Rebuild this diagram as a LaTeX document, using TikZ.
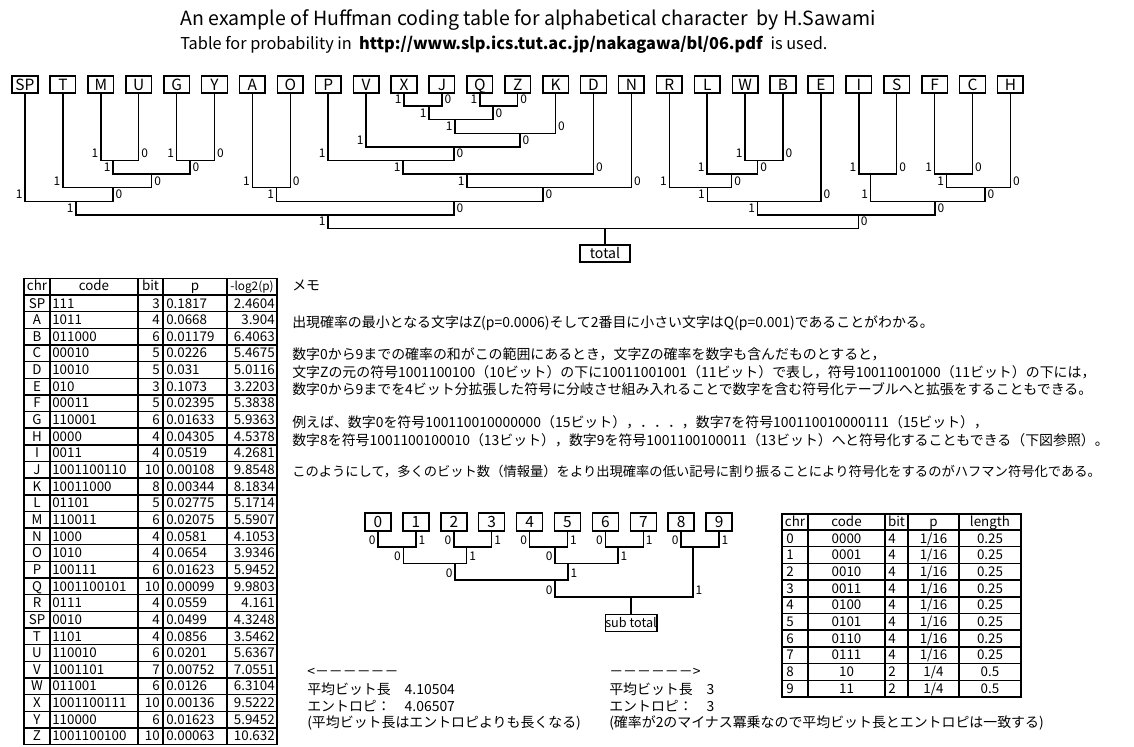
\documentclass[tikz,border=0pt]{standalone}
\usepackage{fontspec}
\setmainfont{Noto Sans CJK JP}

% one branching: left child, joint, right child, left bit, right bit
\newcommand{\hjoin}[5]{\draw[branch] (#1) |- node[bitl]{#4} (#2) -| node[bitr]{#5} (#3);}

\begin{document}
\begin{tikzpicture}[x=0.025cm, y=-0.025cm,
  branch/.style={draw=black, line width=1.1pt},
  lbox/.style={draw=black, line width=1.1pt, minimum width=0.64cm, minimum height=0.43cm, inner sep=0pt, text height=8pt, text depth=0pt, font=\fontsize{11}{12}\selectfont},
  dbox/.style={lbox, minimum width=0.65cm, minimum height=0.45cm},
  sumbox/.style={lbox, text height=6.8pt, font=\fontsize{9}{10}\selectfont},
  bitl/.style={anchor=south east, inner sep=1.3pt, text depth=0pt, font=\fontsize{8.5}{9}\selectfont},
  bitr/.style={bitl, anchor=south west},
  tline/.style={draw=black, line width=1pt},
  cell/.style={inner sep=0pt, font=\fontsize{9.5}{10}\selectfont},
  memo/.style={anchor=base west, inner sep=0pt, font=\fontsize{9.9}{11}\selectfont},
]
\path[fill=white] (0,0) rectangle (1134,747);
\useasboundingbox (0,0) rectangle (1134,747);

% title
\node[anchor=base west, inner sep=0pt, font=\fontsize{13.9}{15}\selectfont] (title) at (180,26) {An example of Huffman coding table for alphabetical character\ \ by H.Sawami};
\node[anchor=base west, inner sep=0pt, font=\fontsize{11.6}{13}\selectfont] (source) at (180,50) {Table for probability in\ \ \textbf{http://www.slp.ics.tut.ac.jp/nakagawa/bl/06.pdf}\ \ is used.};

% letters of the big tree
\foreach \c [count=\i from 0] in {SP,T,M,U,G,Y,A,O,P,V,X,J,Q,Z,K,D,N,R,L,W,B,E,I,S,F,C,H}
  \node[lbox] (l\c) at ({25+37.9*\i},84.5) {\c};

% joints
\coordinate (nMU) at (113,160.5);
\coordinate (nGY) at (190,160.5);
\coordinate (nMUGY) at (151.7,174.1);
\coordinate (nT) at (113,187.7);
\coordinate (nSP) at (76,201.3);
\coordinate (nAO) at (276.7,187.7);
\coordinate (nXJ) at (429,106.1);
\coordinate (nQZ) at (493,106.1);
\coordinate (nXQ) at (455,119.7);
\coordinate (nK) at (520,133.3);
\coordinate (nV) at (454,146.9);
\coordinate (nP) at (403,160.5);
\coordinate (nD) at (467,174.1);
\coordinate (nN) at (543,187.7);
\coordinate (nA) at (454,201.3);
\coordinate (nRootL) at (328,214.9);
\coordinate (nWB) at (757.7,160.5);
\coordinate (nL) at (731.7,174.1);
\coordinate (nR) at (707.3,187.7);
\coordinate (nE) at (757.7,201.3);
\coordinate (nIS) at (870.7,174.1);
\coordinate (nFC) at (946.7,174.1);
\coordinate (nH) at (985,187.7);
\coordinate (nI) at (935,201.3);
\coordinate (nR0) at (858.3,214.9);
\coordinate (root) at (605,228.5);
\node[sumbox, minimum width=1.25cm, text height=7.2pt, font=\fontsize{10}{11}\selectfont] (total) at (605,253.5) {total};

\hjoin{lM}{nMU}{lU}{1}{0}
\hjoin{lG}{nGY}{lY}{1}{0}
\hjoin{nMU}{nMUGY}{nGY}{1}{0}
\hjoin{lT}{nT}{nMUGY}{1}{0}
\hjoin{lSP}{nSP}{nT}{1}{0}
\hjoin{lA}{nAO}{lO}{1}{0}
\hjoin{lX}{nXJ}{lJ}{1}{0}
\hjoin{lQ}{nQZ}{lZ}{1}{0}
\hjoin{nXJ}{nXQ}{nQZ}{1}{0}
\hjoin{nXQ}{nK}{lK}{1}{0}
\hjoin{lV}{nV}{nK}{1}{0}
\hjoin{lP}{nP}{nV}{1}{0}
\hjoin{nP}{nD}{lD}{1}{0}
\hjoin{nD}{nN}{lN}{1}{0}
\hjoin{nAO}{nA}{nN}{1}{0}
\hjoin{nSP}{nRootL}{nA}{1}{0}
\hjoin{lW}{nWB}{lB}{1}{0}
\hjoin{lL}{nL}{nWB}{1}{0}
\hjoin{lR}{nR}{nL}{1}{0}
\hjoin{nR}{nE}{lE}{1}{0}
\hjoin{lI}{nIS}{lS}{1}{0}
\hjoin{lF}{nFC}{lC}{1}{0}
\hjoin{nFC}{nH}{lH}{1}{0}
\hjoin{nIS}{nI}{nH}{1}{0}
\hjoin{nE}{nR0}{nI}{1}{0}
\hjoin{nRootL}{root}{nR0}{1}{0}
\draw[branch] (root) -- (total);

% table of letters
\draw[tline, line width=1.3pt] (24,278.5) rectangle (277,744.5);
\foreach \x in {50,138,163,227} \draw[tline] (\x,278.5) -- (\x,744.5);
\foreach \k in {0,...,26} \draw[tline] (24,{295+16.65*\k}) -- (277,{295+16.65*\k});
\node[cell, anchor=base] (hchr) at (37,291) {chr};
\node[cell, anchor=base] (hcode) at (94,291) {code};
\node[cell, anchor=base] (hbit) at (150.5,291) {bit};
\node[cell, anchor=base] (hp) at (195,291) {p};
\node[cell, anchor=base, font=\fontsize{8.4}{9}\selectfont] (hlog) at (252,291) {-log2(p)};
\foreach \c/\code/\b/\p/\lg [count=\r] in {SP/111/3/0.1817/2.4604, A/1011/4/0.0668/3.904, B/011000/6/0.01179/6.4063,
  C/00010/5/0.0226/5.4675, D/10010/5/0.031/5.0116, E/010/3/0.1073/3.2203, F/00011/5/0.02395/5.3838,
  G/110001/6/0.01633/5.9363, H/0000/4/0.04305/4.5378, I/0011/4/0.0519/4.2681, J/1001100110/10/0.00108/9.8548,
  K/10011000/8/0.00344/8.1834, L/01101/5/0.02775/5.1714, M/110011/6/0.02075/5.5907, N/1000/4/0.0581/4.1053,
  O/1010/4/0.0654/3.9346, P/100111/6/0.01623/5.9452, Q/1001100101/10/0.00099/9.9803, R/0111/4/0.0559/4.161,
  SP/0010/4/0.0499/4.3248, T/1101/4/0.0856/3.5462, U/110010/6/0.0201/5.6367, V/1001101/7/0.00752/7.0551,
  W/011001/6/0.0126/6.3104, X/1001100111/10/0.00136/9.5222, Y/110000/6/0.01623/5.9452, Z/1001100100/10/0.00063/10.632}
{
  \node[cell, anchor=base] (chr\r) at (37,{295+16.65*(\r-0.5)+4.7}) {\c};
  \node[cell, anchor=base west] (code\r) at (52,{295+16.65*(\r-0.5)+4.7}) {\code};
  \node[cell, anchor=base east] (bit\r) at (160,{295+16.65*(\r-0.5)+4.7}) {\b};
  \node[cell, anchor=base west] (p\r) at (166,{295+16.65*(\r-0.5)+4.7}) {\p};
  \node[cell, anchor=base east] (lg\r) at (275,{295+16.65*(\r-0.5)+4.7}) {\lg};
}

% memo
\node[memo] (memo) at (292,291) {メモ};
\node[memo] (m1) at (292,328) {出現確率の最小となる文字はZ(p=0.0006)そして2番目に小さい文字はQ(p=0.001)であることがわかる。};
\node[memo] (m2a) at (292,360) {数字0から9までの確率の和がこの範囲にあるとき，文字Zの確率を数字も含んだものとすると，};
\node[memo] (m2b) at (292,377.5) {文字Zの元の符号1001100100（10ビット）の下に10011001001（11ビット）で表し，符号10011001000（11ビット）の下には，};
\node[memo] (m2c) at (292,395) {数字0から9までを4ビット分拡張した符号に分岐させ組み入れることで数字を含む符号化テーブルへと拡張をすることもできる。};
\node[memo] (m3a) at (292,428) {例えば、数字0を符号100110010000000（15ビット），．．．，数字7を符号100110010000111（15ビット），};
\node[memo] (m3b) at (292,445.5) {数字8を符号1001100100010（13ビット），数字9を符号1001100100011（13ビット）へと符号化することもできる（下図参照）。};
\node[memo, font=\fontsize{9.45}{11}\selectfont] (m4) at (292,477) {このようにして，多くのビット数（情報量）をより出現確率の低い記号に割り振ることにより符号化をするのがハフマン符号化である。};

% digits tree
\foreach \d [count=\i from 0] in {0,...,9}
  \node[dbox] (d\d) at ({378+37.9*\i},522) {\d};
\coordinate (n01) at (403.3,547);
\coordinate (n23) at (466.7,547);
\coordinate (n45) at (555,547);
\coordinate (n67) at (618,547);
\coordinate (n89) at (693,547);
\coordinate (n03) at (455,563.5);
\coordinate (n47) at (568,563.5);
\coordinate (n07) at (555,580);
\coordinate (sroot) at (631,597);
\node[sumbox, minimum width=1.15cm] (subtotal) at (631,623) {sub total};
\hjoin{d0}{n01}{d1}{0}{1}
\hjoin{d2}{n23}{d3}{0}{1}
\hjoin{d4}{n45}{d5}{0}{1}
\hjoin{d6}{n67}{d7}{0}{1}
\hjoin{d8}{n89}{d9}{0}{1}
\hjoin{n01}{n03}{n23}{0}{1}
\hjoin{n45}{n47}{n67}{0}{1}
\hjoin{n03}{n07}{n47}{0}{1}
\hjoin{n07}{sroot}{n89}{0}{1}
\draw[branch] (sroot) -- (subtotal);

% table of digits
\draw[tline, line width=1.3pt] (782,514) rectangle (1021,697);
\foreach \x in {808,885,908,959} \draw[tline] (\x,514) -- (\x,697);
\foreach \k in {0,...,9} \draw[tline] (782,{530+16.7*\k}) -- (1021,{530+16.7*\k});
\node[cell, anchor=base] (hdchr) at (795,526.5) {chr};
\node[cell, anchor=base] (hdcode) at (846.5,526.5) {code};
\node[cell, anchor=base] (hdbit) at (896.5,526.5) {bit};
\node[cell, anchor=base] (hdp) at (933.5,526.5) {p};
\node[cell, anchor=base] (hdlen) at (990,526.5) {length};
\foreach \c/\code/\b/\p/\len [count=\r] in {0/0000/4/{1/16}/0.25, 1/0001/4/{1/16}/0.25, 2/0010/4/{1/16}/0.25,
  3/0011/4/{1/16}/0.25, 4/0100/4/{1/16}/0.25, 5/0101/4/{1/16}/0.25, 6/0110/4/{1/16}/0.25, 7/0111/4/{1/16}/0.25,
  8/10/2/{1/4}/0.5, 9/11/2/{1/4}/0.5}
{
  \node[cell, anchor=base west] (dc\r) at (786,{530+16.7*(\r-0.5)+4.7}) {\c};
  \node[cell, anchor=base] (dcode\r) at (846.5,{530+16.7*(\r-0.5)+4.7}) {\code};
  \node[cell, anchor=base west] (dbit\r) at (888,{530+16.7*(\r-0.5)+4.7}) {\b};
  \node[cell, anchor=base] (dp\r) at (933.5,{530+16.7*(\r-0.5)+4.7}) {\p};
  \node[cell, anchor=base] (dlen\r) at (990,{530+16.7*(\r-0.5)+4.7}) {\len};
}

% averages
\node[memo] (arrl) at (307,677) {<－－－－－－};
\node[memo] (avgl) at (307,695) {平均ビット長　4.10504};
\node[memo] (entl) at (307,712) {エントロピ：　4.06507};
\node[memo] (notel) at (307,728) {(平均ビット長はエントロピよりも長くなる)};
\node[memo] (arrr) at (609,677) {－－－－－－>};
\node[memo] (avgr) at (609,695) {平均ビット長　3};
\node[memo] (entr) at (609,712) {エントロピ：　3};
\node[memo] (noter) at (609,728) {(確率が2のマイナス冪乗なので平均ビット長とエントロピは一致する)};
\end{tikzpicture}
\end{document}
